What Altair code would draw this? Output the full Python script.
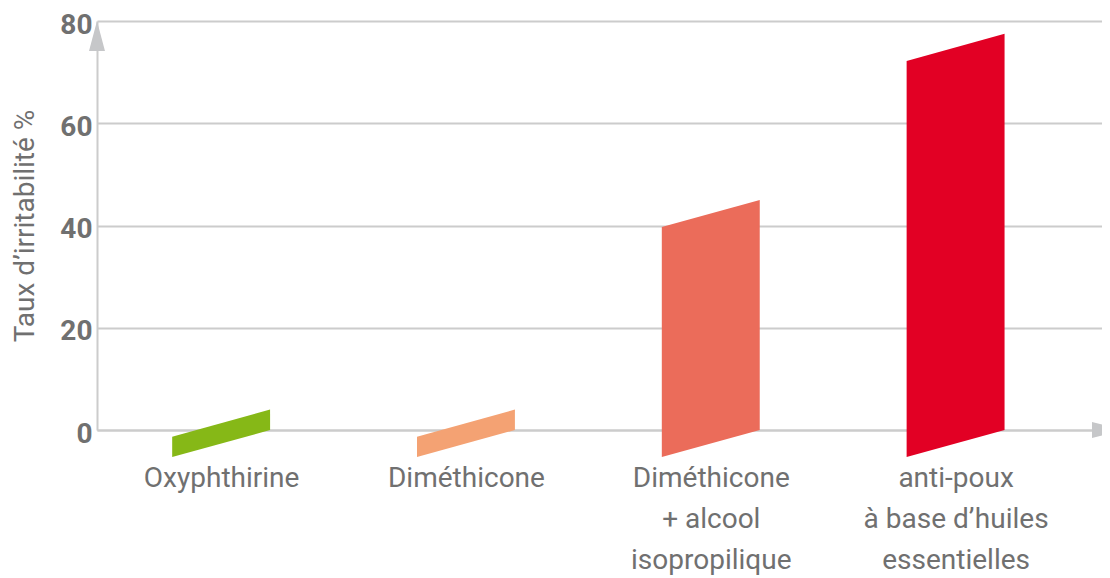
import json
import pandas as pd
import altair as alt

# ---- data ----
categories = [
    "Oxyphthirine",
    "Diméthicone",
    "Diméthicone\n+ alcool\nisopropilique",
    "anti-poux\nà base d’huiles\nessentielles",
]
values = [4, 4, 45, 77.5]
y_ticks = [0, 20, 40, 60, 80]
y_title = "Taux d’irritabilité %"

# ---- style ----
colors = ["#86b817", "#f4a273", "#eb6c5a", "#e20024"]
GRID = "#cccccc"
TEXT = "#707070"
FONT = "Roboto"
SKEW = 5.3      # downward shear of the left side of each bar (in y units)
HALF = 0.2      # half bar width (in category units)
W, H = 1005, 409

rows = []
for i, (c, v) in enumerate(zip(categories, values)):
    rows.append({"cat": c, "x": i - HALF, "top": v - SKEW, "bottom": -SKEW})
    rows.append({"cat": c, "x": i + HALF, "top": v, "bottom": 0})
df = pd.DataFrame(rows)

labels_js = json.dumps([c.replace("\n", "|") for c in categories], ensure_ascii=False)
label_expr = f"split({labels_js}[datum.value], '|')"

x_enc = alt.X(
    "x:Q",
    scale=alt.Scale(domain=[-0.507, 3.598], nice=False, zero=False),
    axis=alt.Axis(
        values=list(range(len(categories))), labelExpr=label_expr, grid=False,
        ticks=False, tickSize=0, domain=True, domainColor=GRID, domainWidth=2,
        labelFont=FONT, labelFontSize=28, labelColor=TEXT, labelPadding=34,
        labelLineHeight=41, labelFlush=False, labelOverlap=False, labelLimit=0,
        title=None, zindex=0,
    ),
)
y_enc = alt.Y(
    "top:Q",
    scale=alt.Scale(domain=[0, 80], nice=False, zero=True),
    axis=alt.Axis(
        values=y_ticks, grid=True, gridColor=GRID, gridWidth=2, ticks=False, tickSize=0,
        domain=True, domainColor=GRID, domainWidth=2,
        labelFont=FONT, labelFontSize=28, labelFontWeight="bold", labelColor=TEXT,
        labelPadding=5, labelOffset=4,
        title=y_title, titleFont=FONT, titleFontSize=28, titleFontWeight="normal",
        titleColor=TEXT, titlePadding=20, zindex=0,
    ),
)

bars = alt.Chart(df).mark_area(clip=False, opacity=1).encode(
    x=x_enc,
    y=y_enc,
    y2="bottom:Q",
    color=alt.Color("cat:N", scale=alt.Scale(domain=categories, range=colors), legend=None),
)

arrow_df = pd.DataFrame({"a": [0]})
y_arrow = alt.Chart(arrow_df).mark_point(
    shape="M0,0L0.533,2L-0.533,2Z", size=900, filled=True, opacity=1,
    color="#c6c7c9", strokeWidth=0, clip=False,
).encode(x=alt.value(0), y=alt.value(0))
x_arrow = alt.Chart(arrow_df).mark_point(
    shape="M0,-0.533L2.13,0L0,0.533Z", size=900, filled=True, opacity=1,
    color="#c6c7c9", strokeWidth=0, clip=False,
).encode(x=alt.value(995), y=alt.value(H))

chart = alt.layer(bars, y_arrow, x_arrow).properties(
    width=W, height=H,
    autosize=alt.AutoSizeParams(type="none"),
    padding={"left": 89, "top": 13, "right": 0, "bottom": 148},
).configure_view(stroke=None)

chart.save("out.html", embed_options={"renderer": "svg", "actions": False})
